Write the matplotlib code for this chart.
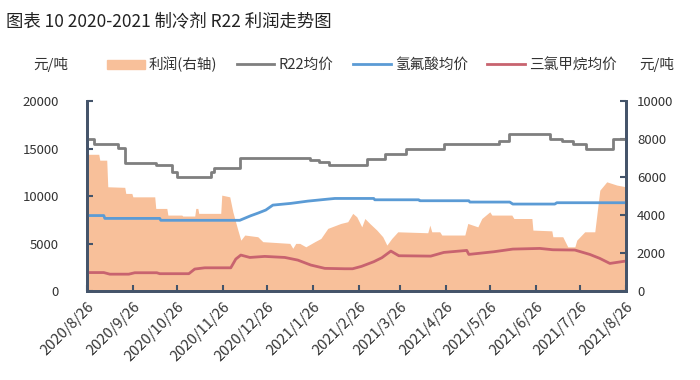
import numpy as np
import pandas as pd
import matplotlib
matplotlib.use("Agg")
import matplotlib.pyplot as plt
from matplotlib.patches import Patch
from matplotlib.lines import Line2D

plt.rcParams['font.family'] = ['Noto Sans CJK SC', 'DejaVu Sans']

start = pd.Timestamp("2020-08-26")

# R22 均价 (元/吨), change points in days since 2020-08-26
r22_days = [0, 5, 21, 26, 47, 58, 61, 84, 86, 104, 151, 157, 164, 190, 202,
            216, 242, 279, 286, 314, 322, 329, 338, 356, 365]
r22_price = [16000, 15500, 15100, 13500, 13300, 12500, 12000, 12500, 13000,
             14000, 13850, 13600, 13300, 13900, 14400, 15000, 15500, 15800,
             16500, 16000, 15800, 15500, 15000, 16000, 16000]

# 氢氟酸均价
hf_days = [0, 11.5, 12.2, 49.4, 50.1, 103.6, 111, 115.8, 121.2, 126, 138.1,
           149.7, 163.2, 168, 194.3, 195, 224.8, 225.5, 258.7, 259.4, 286.4,
           288.5, 316.9, 318.3, 365]
hf_price = [7950, 7950, 7650, 7650, 7450, 7450, 7930, 8200, 8530, 9050, 9230,
            9470, 9680, 9750, 9750, 9610, 9610, 9510, 9510, 9370, 9370, 9160,
            9160, 9300, 9300]

# 三氯甲烷均价
cm_days = [0, 11.5, 15.6, 28.4, 32.5, 47.4, 49.4, 69.1, 73.1, 79.9, 97.5,
           100.9, 104.3, 110.4, 120.5, 134.1, 142.9, 151.7, 161.2, 174.7,
           180, 186, 194.3, 199.8, 205.9, 211.3, 232.9, 241.8, 257.3, 258.7,
           275.6, 288.5, 306.8, 315.6, 330.5, 340.6, 347.4, 354.2, 365]
cm_price = [1950, 1950, 1780, 1780, 1930, 1930, 1830, 1830, 2320, 2450, 2450,
            3370, 3790, 3540, 3650, 3540, 3260, 2740, 2390, 2350, 2350, 2600,
            3090, 3510, 4210, 3720, 3680, 4070, 4280, 3860, 4140, 4420, 4490,
            4350, 4320, 3860, 3440, 2910, 3160]

# 利润 (右轴)
profit_days = [0, 8.1, 8.8, 13.5, 14.2, 25.7, 26.4, 30.5, 31.2, 46, 46.7,
               54.2, 54.9, 64.3, 65, 73.1, 73.8, 75.2, 75.8, 90.7, 91.4, 96.8,
               98.9, 102.3, 104.3, 107, 115.8, 119.2, 137.5, 139.5, 141.5,
               144.2, 148.3, 154.4, 158.5, 163.2, 172, 176.7, 180.1, 182.8,
               186.2, 188.3, 191.6, 196.4, 200.4, 203.2, 206.5, 210.6, 230.9,
               232.3, 233.6, 239, 240.4, 256, 258, 264.8, 267.5, 272.9, 274.3,
               287.8, 289.2, 301.4, 302.1, 314.9, 315.6, 322.3, 325.7, 330.5,
               331.8, 337.2, 344, 347.4, 352.1, 358.9, 365]
profit = [7200, 7200, 6890, 6890, 5490, 5460, 5140, 5140, 4960, 4960, 4350,
          4350, 4000, 4000, 3950, 3950, 4350, 4350, 4090, 4090, 5050, 4960,
          4170, 3210, 2680, 2950, 2860, 2600, 2510, 2250, 2510, 2510, 2330,
          2600, 2770, 3300, 3560, 3650, 4090, 3910, 3380, 3820, 3560, 3210,
          2860, 2420, 2770, 3120, 3070, 3470, 3120, 3120, 2950, 2950, 3560,
          3380, 3820, 4170, 4000, 4000, 3820, 3820, 3210, 3170, 2860, 2860,
          2330, 2330, 2680, 3120, 3120, 5310, 5750, 5580, 5490]

tick_dates = pd.date_range("2020-08-26", "2021-08-26", freq=pd.DateOffset(months=1))
tick_labels = [f"{d.year}/{d.month}/{d.day}" for d in tick_dates]


def to_dates(days):
    return start + pd.to_timedelta(np.array(days), unit="D")


fig = plt.figure(figsize=(7, 3.8), dpi=100)
ax = fig.add_axes([0.124, 0.234, 0.77, 0.50])
ax2 = ax.twinx()
ax.set_zorder(ax2.get_zorder() + 1)
ax.patch.set_visible(False)

c_area = "#F8C09A"
c_r22 = "#7F7F7F"
c_hf = "#5B9BD5"
c_cm = "#C8636F"
spine_c = "#44546A"

ax2.fill_between(to_dates(profit_days), profit, 0, color=c_area, lw=0)
ax.plot(to_dates(r22_days), r22_price, color=c_r22, lw=2, drawstyle="steps-post")
ax.plot(to_dates(hf_days), hf_price, color=c_hf, lw=2)
ax.plot(to_dates(cm_days), cm_price, color=c_cm, lw=2)

ax.set_xlim(start, pd.Timestamp("2021-08-26"))
ax.set_ylim(0, 20000)
ax2.set_ylim(0, 10000)
ax.set_yticks(range(0, 20001, 5000))
ax2.set_yticks(range(0, 10001, 2000))
ax.set_xticks(tick_dates)
ax.set_xticklabels(tick_labels, rotation=45, ha="right", rotation_mode="anchor",
                   fontsize=10.5, color="#333333")

for a in (ax, ax2):
    a.spines["top"].set_visible(False)
    for s in ("left", "right", "bottom"):
        a.spines[s].set_color(spine_c)
        a.spines[s].set_linewidth(2)
ax.tick_params(axis="y", direction="in", length=4, width=1.5, color=spine_c,
               labelsize=9.5, labelcolor="#333333", pad=20)
ax2.tick_params(axis="y", direction="in", length=4, width=1.5, color=spine_c,
                labelsize=9.5, labelcolor="#333333", pad=8)
ax.tick_params(axis="x", direction="in", length=4, width=1.5, color=spine_c, pad=6)

fig.text(0.008, 0.945, "图表 10 2020-2021 制冷剂 R22 利润走势图", fontsize=12.5,
         color="#222222", va="center")
fig.text(0.047, 0.83, "元/吨", fontsize=10.5, color="#333333", va="center")
fig.text(0.913, 0.83, "元/吨", fontsize=10.5, color="#333333", va="center")

handles = [Patch(color=c_area), Line2D([], [], color=c_r22, lw=2),
           Line2D([], [], color=c_hf, lw=2), Line2D([], [], color=c_cm, lw=2)]
labels = ["利润(右轴)", "R22均价", "氢氟酸均价", "三氯甲烷均价"]
fig.legend(handles, labels, loc="center", bbox_to_anchor=(0.517, 0.83), ncol=4,
           frameon=False, fontsize=10.5, handlelength=2.6, handleheight=0.6,
           columnspacing=1.3, handletextpad=0.3, labelcolor="#333333")

fig.savefig("out.png", dpi=100)
